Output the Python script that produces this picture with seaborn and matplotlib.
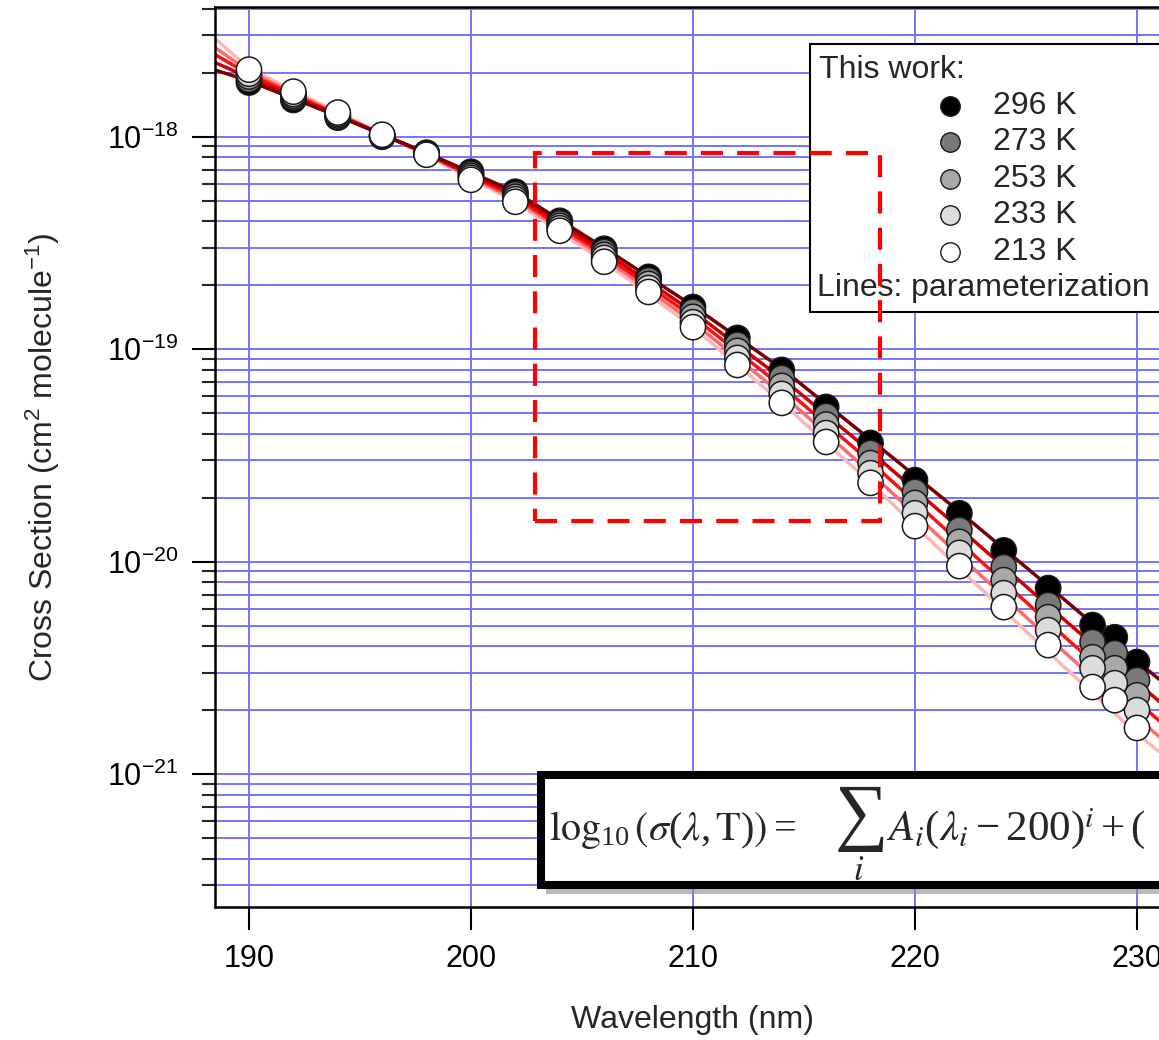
import numpy as np
import pandas as pd
import matplotlib
matplotlib.use('Agg')
import matplotlib.pyplot as plt
import seaborn as sns
from matplotlib.patches import Rectangle
from matplotlib.lines import Line2D
from matplotlib.ticker import FuncFormatter, FixedLocator, NullFormatter

# measured cross sections (cm2 molecule-1)
wavelength = [190, 192, 194, 196, 198, 200, 202, 204, 206, 208, 210,
              212, 214, 216, 218, 220, 222, 224, 226, 228, 229, 230]
sigma_296 = [1.80e-18, 1.49e-18, 1.23e-18, 1.00e-18, 8.41e-19, 6.84e-19, 5.51e-19, 4.02e-19,
             2.97e-19, 2.19e-19, 1.58e-19, 1.13e-19, 7.99e-20, 5.35e-20, 3.62e-20, 2.42e-20,
             1.69e-20, 1.13e-20, 7.51e-21, 5.03e-21, 4.41e-21, 3.37e-21]
sigma_273 = [1.86e-18, 1.53e-18, 1.24e-18, 1.005e-18, 8.36e-19, 6.69e-19, 5.36e-19, 3.91e-19,
             2.87e-19, 2.11e-19, 1.50e-19, 1.05e-19, 7.32e-20, 4.85e-20, 3.25e-20, 2.13e-20,
             1.41e-20, 9.43e-21, 6.25e-21, 4.18e-21, 3.71e-21, 2.77e-21]
sigma_253 = [1.92e-18, 1.56e-18, 1.26e-18, 1.011e-18, 8.32e-19, 6.55e-19, 5.22e-19, 3.81e-19,
             2.78e-19, 2.03e-19, 1.42e-19, 9.82e-20, 6.72e-20, 4.42e-20, 2.91e-20, 1.89e-20,
             1.24e-20, 8.19e-21, 5.48e-21, 3.55e-21, 3.15e-21, 2.35e-21]
sigma_233 = [1.98e-18, 1.59e-18, 1.28e-18, 1.016e-18, 8.27e-19, 6.41e-19, 5.08e-19, 3.71e-19,
             2.69e-19, 1.94e-19, 1.34e-19, 9.10e-20, 6.16e-20, 4.03e-20, 2.61e-20, 1.69e-20,
             1.10e-20, 7.11e-21, 4.76e-21, 3.15e-21, 2.68e-21, 2.00e-21]
sigma_213 = [2.07e-18, 1.63e-18, 1.30e-18, 1.022e-18, 8.23e-19, 6.27e-19, 4.94e-19, 3.61e-19,
             2.58e-19, 1.86e-19, 1.27e-19, 8.43e-20, 5.59e-20, 3.66e-20, 2.35e-20, 1.47e-20,
             9.53e-21, 6.11e-21, 4.05e-21, 2.57e-21, 2.23e-21, 1.65e-21]

# parameterization lines
line_wl = [188, 190, 194, 198, 202, 206, 210, 214, 218, 222, 226, 230, 232]
fit_296 = [2.14e-18, 1.83e-18, 1.25e-18, 8.40e-19, 5.50e-19, 3.00e-19, 1.60e-19, 8.10e-20,
           3.75e-20, 1.72e-20, 7.70e-21, 3.40e-21, 2.30e-21]
fit_273 = [2.35e-18, 1.90e-18, 1.26e-18, 8.35e-19, 5.35e-19, 2.88e-19, 1.50e-19, 7.30e-20,
           3.30e-20, 1.44e-20, 6.20e-21, 2.70e-21, 1.80e-21]
fit_253 = [2.60e-18, 1.97e-18, 1.27e-18, 8.30e-19, 5.20e-19, 2.78e-19, 1.42e-19, 6.70e-20,
           2.95e-20, 1.24e-20, 5.20e-21, 2.20e-21, 1.45e-21]
fit_233 = [2.85e-18, 2.03e-18, 1.28e-18, 8.25e-19, 5.07e-19, 2.69e-19, 1.34e-19, 6.15e-20,
           2.62e-20, 1.07e-20, 4.40e-21, 1.85e-21, 1.22e-21]
fit_213 = [3.20e-18, 2.10e-18, 1.30e-18, 8.20e-19, 4.94e-19, 2.58e-19, 1.27e-19, 5.60e-20,
           2.35e-20, 9.30e-21, 3.75e-21, 1.55e-21, 1.05e-21]

temps = ['296 K', '273 K', '253 K', '233 K', '213 K']
marker_colors = ['#000000', '#7a7a7a', '#a8a8a8', '#dcdcdc', '#ffffff']
line_colors = ['#780000', '#d00000', '#ff1010', '#ff6a6a', '#ffb6b6']

y_major = [1e-21, 1e-20, 1e-19, 1e-18]
x_major = [190, 200, 210, 220, 230]

pts = pd.DataFrame({
    'wl': wavelength * 5,
    'sigma': sigma_296 + sigma_273 + sigma_253 + sigma_233 + sigma_213,
    'T': [t for t in temps for _ in wavelength],
})
fits = pd.DataFrame({
    'wl': line_wl * 5,
    'sigma': fit_296 + fit_273 + fit_253 + fit_233 + fit_213,
    'T': [t for t in temps for _ in line_wl],
})

sns.set_style('ticks')
plt.rcParams['font.family'] = ['Liberation Sans', 'DejaVu Sans']
plt.rcParams['mathtext.default'] = 'regular'

W, H = 1159, 1040
fig = plt.figure(figsize=(W / 100, H / 100), dpi=100)
ax = fig.add_axes([215 / W, 133 / H, 988 / W, 900 / H])
ax.set_yscale('log')

sns.lineplot(data=fits, x='wl', y='sigma', hue='T', hue_order=temps[::-1],
             palette=dict(zip(temps, line_colors)), estimator=None, sort=False,
             lw=2.5, legend=False, ax=ax, zorder=2)
sns.scatterplot(data=pts, x='wl', y='sigma', hue='T', hue_order=temps,
                palette=dict(zip(temps, marker_colors)), s=330,
                edgecolor='#1a1a1a', linewidth=1.1, legend=False, ax=ax, zorder=3)

ax.set_xlim(188.47, 188.47 + 988 / 22.2)
ax.set_ylim(2.37e-22, 4.08e-18)
ax.set_xticks(x_major)
minor = [m * d for d in [1e-22] + y_major for m in range(2, 10)]
minor = [v for v in minor if 2.37e-22 <= v <= 4.08e-18]
ax.yaxis.set_major_locator(FixedLocator(y_major))
ax.yaxis.set_minor_locator(FixedLocator(minor))
ax.yaxis.set_minor_formatter(NullFormatter())
ax.yaxis.set_major_formatter(FuncFormatter(lambda v, p: r'$10^{%d}$' % round(np.log10(v))))

grid_c = '#7474ff'
ax.grid(True, axis='y', which='both', color=grid_c, lw=1.4)
ax.grid(True, axis='x', which='major', color=grid_c, lw=1.4)
ax.set_axisbelow(True)

ax.tick_params(axis='both', which='major', length=16.5, width=1.5, direction='out',
               labelsize=22, pad=10, colors='black')
ax.tick_params(axis='y', which='minor', length=9.4, width=1.5, direction='out')
ax.tick_params(top=False, right=False)
for s in ['left', 'bottom', 'top']:
    ax.spines[s].set_linewidth(1.8)
    ax.spines[s].set_color('black')
ax.spines['right'].set_visible(False)

ax.set_xlabel('Wavelength (nm)', fontsize=23)
ax.xaxis.set_label_coords(0.483, -0.109)
ax.set_ylabel('Cross Section (cm$^{2}$ molecule$^{-1}$)', fontsize=23)
ax.yaxis.set_label_coords(-0.155, 0.5)


def fx(px):
    return px / W


def fy(py):
    return 1 - py / H


tf = fig.transFigure

# legend box
ax.add_patch(Rectangle((fx(810), fy(312)), (1180 - 810) / W, (312 - 44) / H, transform=tf,
                       fc='white', ec='black', lw=1.5, zorder=5, clip_on=False))
ax.text(fx(819), fy(70), 'This work:', transform=tf, fontsize=23, va='center', ha='left', zorder=6)
for k, (t, c) in enumerate(zip(temps, marker_colors)):
    yy = fy(106 + 36.4 * k)
    ax.add_line(Line2D([fx(950)], [yy], transform=tf, marker='o', ms=14, mfc=c, mec='#1a1a1a',
                       mew=1.0, ls='none', zorder=6, clip_on=False))
    ax.text(fx(993), yy, t, transform=tf, fontsize=23, va='center', ha='left', zorder=6)
ax.text(fx(817), fy(288), 'Lines: parameterization', transform=tf, fontsize=23,
        va='center', ha='left', zorder=6)

# equation box with shadow
ax.add_patch(Rectangle((fx(546), fy(894)), (1200 - 546) / W, (894 - 780) / H, transform=tf,
                       fc='#8c8c8c', ec='none', alpha=0.6, zorder=6, clip_on=False))
ax.add_patch(Rectangle((fx(540.5), fy(884.5)), (1200 - 540.5) / W, (884.5 - 774.5) / H,
                       transform=tf, fc='white', ec='black', lw=5.8, zorder=7, clip_on=False))
eq_kw = dict(transform=tf, family='Liberation Serif', math_fontfamily='stix', zorder=8,
             clip_on=False)
ax.text(fx(549), fy(840),
        r'$\log_{10}\left(\mathit{\sigma}(\mathit{\lambda},\mathrm{T})\right) =$',
        fontsize=29, va='baseline', ha='left', **eq_kw)
ax.text(fx(859), fy(819), r'$\sum$', fontsize=54, ha='center', va='center', **eq_kw)
ax.text(fx(859), fy(880), r'$\mathit{i}$', fontsize=25, ha='center', va='baseline', **eq_kw)
ax.text(fx(886), fy(840),
        r'$\mathit{A_i}(\mathit{\lambda_i} - 200)^{\mathit{i}} + ($',
        fontsize=31, va='baseline', ha='left', **eq_kw)

# red dashed region
ax.add_patch(Rectangle((202.88, 1.56e-20), 218.42 - 202.88, 8.41e-19 - 1.56e-20,
                       fill=False, ec='#ff0000', lw=3, ls=(0, (5.3, 3.4)), zorder=10,
                       clip_on=False))

fig.savefig('out.png', dpi=100)
